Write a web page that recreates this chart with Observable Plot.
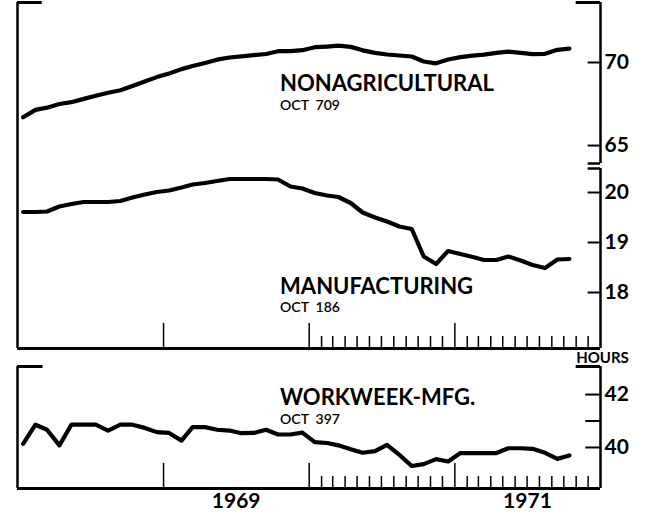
<!DOCTYPE html>
<html><head><meta charset="utf-8">
<script src="https://cdn.jsdelivr.net/npm/d3@7"></script>
<script src="https://cdn.jsdelivr.net/npm/@observablehq/plot@0.6"></script>
<style>
body{margin:0;background:#fff;}
#chart{position:relative;width:646px;height:514px;background:#fff;}
#chart svg{display:block;}
</style></head><body><div id="chart"></div>
<script>
// ---- data (monthly, Jan 1968 – Oct 1971) ----
const firstYear = 1968, firstMonth = 0;
const nonagricultural = [66.70, 67.15, 67.28, 67.50, 67.61, 67.81, 68.00, 68.18, 68.33, 68.58, 68.86, 69.12,
  69.34, 69.60, 69.79, 69.97, 70.17, 70.30, 70.37, 70.44, 70.51, 70.68, 70.68, 70.74,
  70.92, 70.96, 71.01, 70.94, 70.73, 70.58, 70.48, 70.42, 70.36, 70.06, 69.95, 70.18,
  70.32, 70.41, 70.47, 70.58, 70.65, 70.58, 70.50, 70.52, 70.76, 70.83];
const manufacturing = [19.61, 19.61, 19.62, 19.72, 19.77, 19.81, 19.81, 19.81, 19.83, 19.90, 19.96, 20.01,
  20.04, 20.10, 20.16, 20.19, 20.23, 20.27, 20.27, 20.27, 20.27, 20.26, 20.12, 20.08,
  19.99, 19.94, 19.91, 19.79, 19.60, 19.50, 19.42, 19.32, 19.27, 18.72, 18.57, 18.83,
  18.77, 18.71, 18.65, 18.65, 18.72, 18.64, 18.55, 18.49, 18.66, 18.67];
const workweek = [40.14, 40.86, 40.67, 40.08, 40.86, 40.86, 40.86, 40.64, 40.86, 40.86, 40.74, 40.58,
  40.55, 40.26, 40.77, 40.77, 40.67, 40.64, 40.54, 40.55, 40.67, 40.49, 40.49, 40.56,
  40.20, 40.17, 40.08, 39.93, 39.80, 39.86, 40.10, 39.72, 39.30, 39.37, 39.56, 39.47,
  39.79, 39.79, 39.79, 39.79, 39.97, 39.97, 39.95, 39.80, 39.57, 39.70];
const titles = ["NONAGRICULTURAL", "MANUFACTURING", "WORKWEEK-MFG."];
const notes = ["OCT  709", "OCT  186", "OCT  397"];
const nonagTicks = [65, 70];
const manufTicks = [18, 19, 20];
const hoursTicks = [40, 41, 42];
const hoursLabels = [40, 42];
const yearTicks = [1969, 1970, 1971];
const yearLabels = ["1969", "1971"];
const monthTickYears = [1970, 1971];
const unitLabel = "HOURS";

// ---- helpers ----
const d = (y, m, day = 1) => new Date(Date.UTC(y, m, day));
const month = i => d(firstYear, firstMonth + i, 15);
const rows = arr => arr.map((v, i) => ({date: month(i), value: v}));
const xStart = d(1968, 0), xEnd = d(1972, 0);
const yearDates = yearTicks.map(y => d(y, 0));
const monthDates = monthTickYears.flatMap(y => d3.range(1, 12).map(m => d(y, m)));
const FONT = "Lato, 'Open Sans', sans-serif";
const W = 646, ML = 17, MR = 46;
const container = document.getElementById("chart");

function base(height, marginTop, marginBottom, domain, marks) {
  return Plot.plot({
    width: W, height, marginLeft: ML, marginRight: MR, marginTop, marginBottom,
    style: {background: "none", fontFamily: FONT, overflow: "visible"},
    x: {type: "utc", domain: [xStart, xEnd], axis: null},
    y: {domain, axis: null},
    marks
  });
}
const rightTicks = (vals, from) => Plot.ruleY(vals, {x1: () => from, x2: () => xEnd, stroke: "#000", strokeWidth: 2});
const rightLabels = (vals) => Plot.text(vals, {x: () => xEnd, y: v => v, text: v => String(v), dx: 4,
  textAnchor: "start", fontSize: 21, fontWeight: "bold", fill: "#000"});
const title = (t, y) => Plot.text([t], {x: () => d(1969, 9, 20), y: () => y, text: v => v, textAnchor: "start",
  lineAnchor: "bottom", fontSize: 22, fontWeight: "bold", fill: "#000"});
const note = (t, y) => Plot.text([t], {x: () => d(1969, 9, 20), y: () => y, text: v => v, textAnchor: "start",
  lineAnchor: "bottom", fontSize: 14, fontWeight: "600", fill: "#000"});
const xTicks = (innerH) => [
  Plot.ruleX(yearDates, {insetTop: innerH - 25, stroke: "#000", strokeWidth: 1.5}),
  Plot.ruleX(monthDates, {insetTop: innerH - 12, stroke: "#000", strokeWidth: 1.5})
];

// ---- panel A: nonagricultural ----
const A = {h: 166, mt: 2, mb: 3, dom: [63.92, 73.61]};
const plotA = base(A.h, A.mt, A.mb, A.dom, [
  Plot.ruleX([xStart], {insetBottom: -3, stroke: "#000", strokeWidth: 2.5}),
  Plot.ruleY([A.dom[1]], {x1: () => xStart, x2: () => d(1968, 2, 3), stroke: "#000", strokeWidth: 3}),
  Plot.ruleX([xEnd], {stroke: "#000", strokeWidth: 2.5}),
  Plot.ruleY([A.dom[1]], {x1: () => d(1971, 10), x2: () => xEnd, stroke: "#000", strokeWidth: 3}),
  Plot.ruleY([A.dom[0]], {x1: () => d(1971, 11), x2: () => xEnd, stroke: "#000", strokeWidth: 2.5}),
  rightTicks(nonagTicks, d(1971, 11)),
  rightLabels(nonagTicks),
  Plot.line(rows(nonagricultural), {x: "date", y: "value", stroke: "#000", strokeWidth: 4.2,
    strokeLinejoin: "round", strokeLinecap: "round"}),
  title(titles[0], 68.31),
  note(notes[0], 67.11)
]);

// ---- panel B: manufacturing ----
const B = {h: 186, mt: 2, mb: 4, dom: [16.88, 20.48]};
const plotB = base(B.h, B.mt, B.mb, B.dom, [
  Plot.ruleX([xStart], {insetTop: -2, stroke: "#000", strokeWidth: 2.5}),
  Plot.ruleY([B.dom[0]], {stroke: "#000", strokeWidth: 3}),
  Plot.ruleX([xEnd], {stroke: "#000", strokeWidth: 2.5}),
  Plot.ruleY([B.dom[1]], {x1: () => d(1971, 11), x2: () => xEnd, stroke: "#000", strokeWidth: 2.5}),
  rightTicks(manufTicks, d(1971, 11)),
  rightLabels(manufTicks),
  ...xTicks(B.h - B.mt - B.mb),
  Plot.line(rows(manufacturing), {x: "date", y: "value", stroke: "#000", strokeWidth: 4.2,
    strokeLinejoin: "round", strokeLinecap: "round"}),
  title(titles[1], 17.98),
  note(notes[1], 17.62)
]);

// ---- panel C: workweek ----
const C = {h: 162, mt: 14, mb: 26, dom: [38.45, 43.06]};
const plotC = base(C.h, C.mt, C.mb, C.dom, [
  Plot.ruleX([xStart], {stroke: "#000", strokeWidth: 2.5}),
  Plot.ruleY([C.dom[1]], {x1: () => xStart, x2: () => d(1968, 2, 5), stroke: "#000", strokeWidth: 3}),
  Plot.ruleY([C.dom[0]], {stroke: "#000", strokeWidth: 3}),
  Plot.ruleX([xEnd], {stroke: "#000", strokeWidth: 2.5}),
  Plot.ruleY([C.dom[1]], {x1: () => d(1971, 10), x2: () => xEnd, stroke: "#000", strokeWidth: 3}),
  rightTicks(hoursTicks, d(1971, 10, 25)),
  rightLabels(hoursLabels),
  Plot.text([unitLabel], {x: () => d(1971, 10), y: () => 43.21, text: v => v, textAnchor: "start",
    lineAnchor: "bottom", fontSize: 15, fontWeight: "bold", fill: "#000"}),
  ...xTicks(C.h - C.mt - C.mb),
  Plot.line(rows(workweek), {x: "date", y: "value", stroke: "#000", strokeWidth: 4.2,
    strokeLinejoin: "round", strokeLinecap: "round"}),
  title(titles[2], 41.62),
  note(notes[2], 40.87),
  Plot.text(yearLabels, {x: v => d(+v, 6, 2), y: () => 37.70, text: v => v, lineAnchor: "bottom",
    fontSize: 21, fontWeight: "bold", fill: "#000"})
]);

container.append(plotA, plotB, plotC);
</script></body></html>
